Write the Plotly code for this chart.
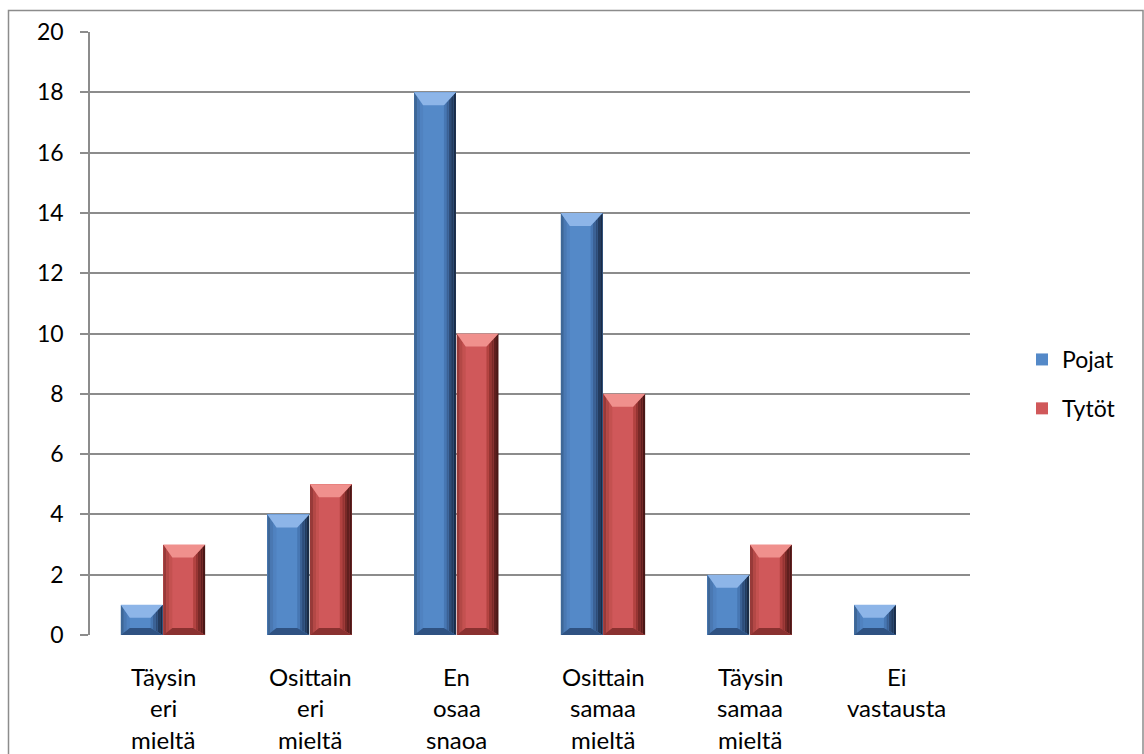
import plotly.graph_objects as go

# Survey answers by group
categories = ["Täysin eri mieltä", "Osittain eri mieltä", "En osaa snaoa",
              "Osittain samaa mieltä", "Täysin samaa mieltä", "Ei vastausta"]
label_lines = [["Täysin", "eri", "mieltä"],
               ["Osittain", "eri", "mieltä"],
               ["En", "osaa", "snaoa"],
               ["Osittain", "samaa", "mieltä"],
               ["Täysin", "samaa", "mieltä"],
               ["Ei", "vastausta"]]
pojat = [1, 4, 18, 14, 2, 1]
tytot = [3, 5, 10, 8, 3, 0]
y_ticks = [0, 2, 4, 6, 8, 10, 12, 14, 16, 18, 20]

W, H = 1144, 754
M_L, M_R, M_T, M_B = 90, 174, 32, 119
PLOT_W = W - M_L - M_R
PLOT_H = H - M_T - M_B
X_RANGE = (-0.5, len(categories) - 0.5)
Y_RANGE = (0, 20)
PX_X = PLOT_W / (X_RANGE[1] - X_RANGE[0])   # pixels per category unit
PX_Y = PLOT_H / (Y_RANGE[1] - Y_RANGE[0])   # pixels per value unit

FONT = "Lato, sans-serif"
BAR_W = 0.285
# bevel insets in pixels: left, right, top, bottom
BEV_L, BEV_R, BEV_T, BEV_B = 9, 12, 13, 7

series = [
    dict(name="Pojat", values=pojat, offset=-0.29,
         face="#5489C8", top="#8DB5E8",
         right_steps=["#1A2C47", "#233B5E", "#2E4C78", "#3B6195", "#4777B3"],
         left_steps=["#3E6797", "#4A78B2", "#5082C0"],
         bottom="#2F5282"),
    dict(name="Tytöt", values=tytot, offset=0.0,
         face="#D0585A", top="#F0908D",
         right_steps=["#4A1716", "#5F1F1E", "#782927", "#953432", "#B24240"],
         left_steps=["#973A39", "#B34846", "#C45150"],
         bottom="#8A3130"),
]

fig = go.Figure()
shapes = []
xs = list(range(len(categories)))


def poly(pts, color):
    d = "M " + " L ".join(f"{px:.5f},{py:.5f}" for px, py in pts) + " Z"
    shapes.append(dict(type="path", path=d, xref="x", yref="y",
                       fillcolor=color, line=dict(width=0), layer="above"))


for s in series:
    fig.add_trace(go.Bar(
        x=xs, y=s["values"], name=s["name"], width=BAR_W, offset=s["offset"],
        legendgroup=s["name"],
        marker=dict(color=s["face"], line=dict(width=0)),
    ))
    # bevelled frame around each bar
    for i, v in enumerate(s["values"]):
        if v <= 0:
            continue
        x0 = i + s["offset"]
        x1 = x0 + BAR_W
        y1 = v
        h_px = v * PX_Y
        k = min(1.0, 0.7 * h_px / (BEV_T + BEV_B))
        lx, rx = BEV_L / PX_X, BEV_R / PX_X
        ty, by = BEV_T * k / PX_Y, BEV_B * k / PX_Y

        # right side, darkest at the outer edge
        steps = s["right_steps"]
        n = len(steps)
        for j, col in enumerate(steps):
            ta, tb = j / n, (j + 1) / n
            poly([(x1 - rx * ta, y1 - ty * ta), (x1 - rx * tb, y1 - ty * tb),
                  (x1 - rx * tb, by * tb), (x1 - rx * ta, by * ta)], col)
        # left side
        steps = s["left_steps"]
        n = len(steps)
        for j, col in enumerate(steps):
            ta, tb = j / n, (j + 1) / n
            poly([(x0 + lx * ta, y1 - ty * ta), (x0 + lx * tb, y1 - ty * tb),
                  (x0 + lx * tb, by * tb), (x0 + lx * ta, by * ta)], col)
        # bottom and top bevels
        poly([(x0, 0), (x0 + lx, by), (x1 - rx, by), (x1, 0)], s["bottom"])
        poly([(x0, y1), (x1, y1), (x1 - rx, y1 - ty), (x0 + lx, y1 - ty)], s["top"])

# outer chart border
shapes.append(dict(type="rect", xref="paper", yref="paper",
                   x0=(8.5 - M_L) / PLOT_W, x1=(1143 - M_L) / PLOT_W,
                   y0=(M_T + PLOT_H - 770) / PLOT_H, y1=(M_T + PLOT_H - 10.5) / PLOT_H,
                   line=dict(color="#8C8C8C", width=1.5), fillcolor="rgba(0,0,0,0)",
                   layer="below"))

# multi-line category labels
annotations = []
for i, lines in enumerate(label_lines):
    for k, txt in enumerate(lines):
        annotations.append(dict(
            x=i, y=0, xref="x", yref="y", text=txt, showarrow=False,
            yanchor="middle", xanchor="center", yshift=-41 - 31.5 * k,
            font=dict(family=FONT, size=24, color="#000000"),
        ))

fig.update_layout(
    width=W, height=H,
    margin=dict(l=M_L, r=M_R, t=M_T, b=M_B),
    paper_bgcolor="white", plot_bgcolor="white",
    shapes=shapes, annotations=annotations,
    bargap=0, showlegend=True,
    legend=dict(x=(1022 - M_L) / PLOT_W, y=(M_T + PLOT_H - 384) / PLOT_H,
                xanchor="left", yanchor="middle",
                font=dict(family=FONT, size=23, color="#000000"),
                tracegroupgap=16, traceorder="grouped",
                itemwidth=30, bgcolor="rgba(0,0,0,0)"),
    font=dict(family=FONT, size=23, color="#000000"),
)
fig.update_xaxes(range=list(X_RANGE), showticklabels=False, showgrid=False,
                 zeroline=False, showline=False, ticks="", fixedrange=True)
fig.update_yaxes(range=list(Y_RANGE), tickvals=y_ticks, showgrid=True,
                 gridcolor="#8C8C8C", gridwidth=1.5, zeroline=False,
                 showline=True, linecolor="#8C8C8C", linewidth=1.5,
                 ticks="outside", ticklen=8, tickcolor="#8C8C8C", tickwidth=1.5,
                 ticklabelstandoff=12,
                 tickfont=dict(family=FONT, size=23, color="#000000"))

fig.write_html("out.html")
